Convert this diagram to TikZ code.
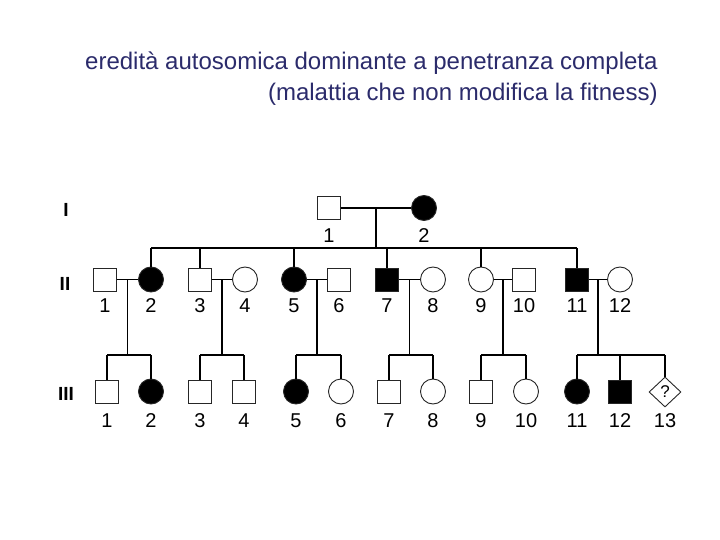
\documentclass[tikz,border=0pt]{standalone}
\usepackage{fontspec}
\setmainfont{Liberation Sans}
\usetikzlibrary{shapes.geometric, calc}
\definecolor{titleblue}{HTML}{2B2B6B}
\tikzset{
  male/.style={rectangle, draw=black!85, minimum size=23pt, inner sep=0pt, line width=0.9pt},
  female/.style={circle, draw=black!85, minimum size=25pt, inner sep=0pt, line width=0.9pt},
  maleaff/.style={male, fill=black},
  femaleaff/.style={female, fill=black},
  unknown/.style={diamond, draw=black!85, minimum width=32pt, minimum height=30pt, inner sep=0pt, line width=0.9pt, font=\fontsize{17}{17}\selectfont},
  num/.style={anchor=base, inner sep=0pt, font=\fontsize{20}{20}\selectfont},
  gen/.style={anchor=base, inner sep=0pt, font=\fontsize{19}{19}\selectfont\bfseries},
  link/.style={line width=1.5pt},
}

\begin{document}
\begin{tikzpicture}[x=1pt, y=-1pt]
\useasboundingbox (0,0) rectangle (720,540);

% Title
\node[anchor=base west, inner sep=0pt, text=titleblue, font=\fontsize{24}{31}\selectfont] (title) at (85,70) {eredità autosomica dominante a penetranza completa};
\node[anchor=base east, inner sep=0pt, text=titleblue, font=\fontsize{24}{31}\selectfont] (subtitle) at ($(title.base east)+(0,31)$) {(malattia che non modifica la fitness)};

% Generations
\node[gen] (genI) at (66,217) {I};
\node[gen] (genII) at (65,290) {II};
\node[gen] (genIII) at (66,400) {III};

% Generation I
\node[male] (I1) at (329,208) {};
\node[femaleaff] (I2) at (424,208) {};
\node[num] (nI1) at (329,242) {1};
\node[num] (nI2) at (424,242) {2};

% Generation II
\foreach \n/\x/\s in {1/105/male, 2/151/femaleaff, 3/200/male, 4/245/female, 5/294/femaleaff, 6/339/male,
  7/387/maleaff, 8/433/female, 9/481/female, 10/524/male, 11/577/maleaff, 12/620/female} {
  \node[\s] (II\n) at (\x,279.5) {};
  \node[num] (nII\n) at (\x,312) {\n};
}

% Generation III
\foreach \n/\x/\s in {1/107/male, 2/151/femaleaff, 3/200/male, 4/244/male, 5/296/femaleaff, 6/341/female,
  7/389/male, 8/433/female, 9/481/male, 10/526/female, 11/577/femaleaff, 12/620/maleaff} {
  \node[\s] (III\n) at (\x,391.5) {};
  \node[num] (nIII\n) at (\x,427) {\n};
}
\node[unknown] (III13) at (665,392) {?};
\node[num] (nIII13) at (665,427) {13};

% Couple I and its children
\draw[link] (I1) -- (I2);
\coordinate (m0) at ($(I1.east)!0.5!(I2.west)$);
\coordinate (s0) at (m0 |- 0,248);
\draw[link] (m0) -- (s0);
\draw[link] (II2.north |- s0) -- (II11.north |- s0);
\foreach \c in {2,3,5,7,9,11}
  \draw[link] (II\c.north |- s0) -- (II\c.north);

% Couples II and their children
\foreach \a/\b/\k/\f/\l in {1/2/1/1/2, 3/4/2/3/4, 5/6/3/5/6, 7/8/4/7/8, 9/10/5/9/10, 11/12/6/11/13} {
  \draw[link] (II\a) -- (II\b);
  \coordinate (m\k) at ($(II\a.east)!0.5!(II\b.west)$);
  \coordinate (s\k) at (m\k |- 0,355);
  \draw[link] (m\k) -- (s\k);
  \draw[link] (III\f.north |- s\k) -- (III\l.north |- s\k);
}
\foreach \c/\k in {1/1, 2/1, 3/2, 4/2, 5/3, 6/3, 7/4, 8/4, 9/5, 10/5, 11/6, 12/6, 13/6}
  \draw[link] (III\c.north |- s\k) -- (III\c.north);

\end{tikzpicture}
\end{document}
